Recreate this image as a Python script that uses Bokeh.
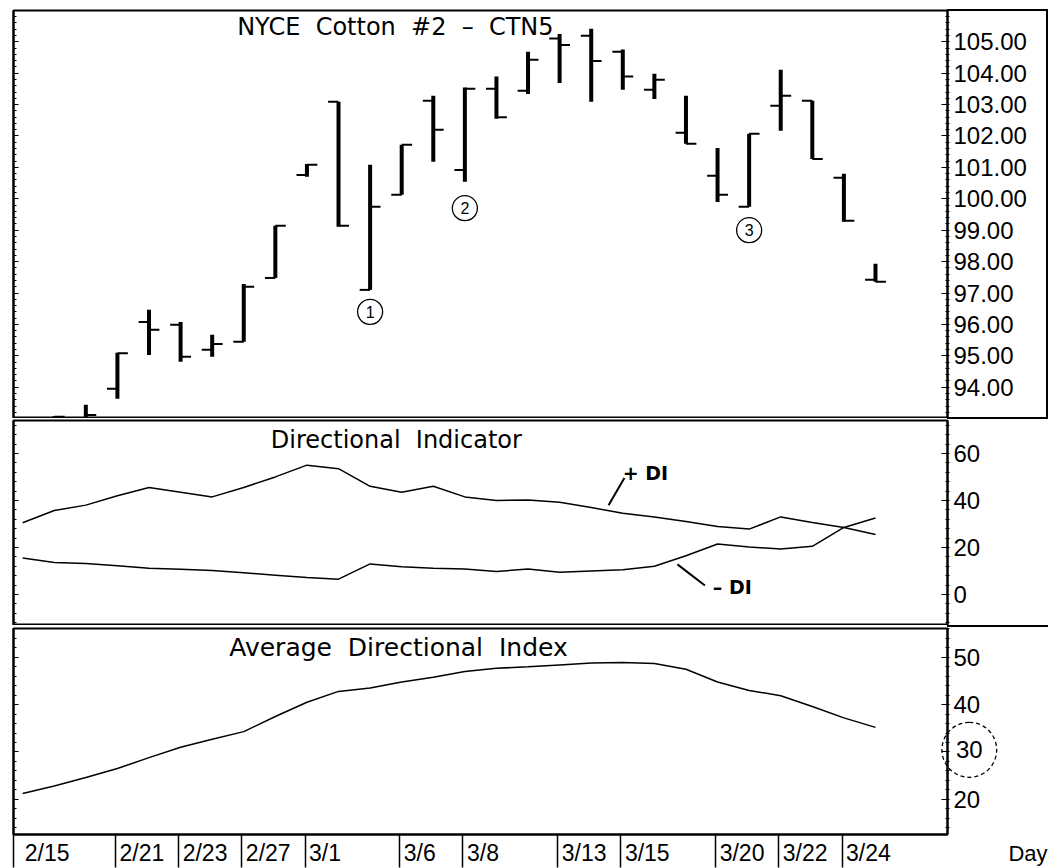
from bokeh.plotting import figure
from bokeh.models import (Range1d, LinearAxis, SingleIntervalTicker, FixedTicker,
                          PrintfTickFormatter, CustomJSTickFormatter, Label,
                          ColumnDataSource)
from bokeh.layouts import column
from bokeh.transform import dodge
from bokeh.core.properties import value
from bokeh.embed import file_html
from bokeh.resources import INLINE

TITLE_FONT = "DejaVu Sans"
FONT = "Liberation Sans"
NB = "\u00a0"

# ---------------- data ----------------
dates = ["2/15", "2/16", "2/17", "2/21", "2/22", "2/23", "2/24", "2/27", "2/28",
         "3/1", "3/2", "3/3", "3/6", "3/7", "3/8", "3/9", "3/10", "3/13", "3/14",
         "3/15", "3/16", "3/17", "3/20", "3/21", "3/22", "3/23", "3/24", "3/27"]

bar_dates = dates[1:]
opens = [92.70, 92.85, 93.95, 96.08, 95.99, 95.19, 95.45, 97.48, 100.76, 103.09,
         97.10, 100.13, 103.12, 100.92, 103.50, 103.44, 105.10, 105.19, 104.68,
         103.47, 102.10, 100.73, 99.75, 102.96, 103.12, 100.67, 97.42]
highs = [93.08, 93.44, 95.10, 96.47, 96.08, 95.67, 97.29, 99.14, 101.11, 103.09,
         101.08, 101.72, 103.28, 103.54, 103.89, 104.68, 105.25, 105.41, 104.75,
         103.98, 103.28, 101.62, 102.07, 104.11, 103.12, 100.80, 97.93]
lows = [92.50, 92.60, 93.63, 95.03, 94.81, 94.97, 95.45, 97.48, 100.70, 99.11,
        97.10, 100.13, 101.18, 100.54, 102.55, 103.34, 103.69, 103.09, 103.47,
        103.18, 101.75, 99.90, 99.75, 102.17, 101.27, 99.27, 97.36]
closes = [93.06, 93.12, 95.08, 95.83, 94.97, 95.38, 97.20, 99.14, 101.08, 99.14,
          99.75, 101.72, 102.20, 103.50, 102.60, 104.43, 104.90, 104.39, 103.89,
          103.79, 101.75, 100.13, 102.07, 103.28, 101.27, 99.30, 97.36]

plus_di = [30.5, 35.7, 38.0, 42.0, 45.5, 43.5, 41.5, 45.5, 50.0, 55.0, 53.5, 46.0,
           43.5, 46.0, 41.5, 40.0, 40.2, 39.2, 37.0, 34.5, 33.0, 31.0, 28.9, 27.8,
           33.0, 30.6, 28.5, 25.5]
minus_di = [15.5, 13.6, 13.2, 12.2, 11.2, 10.7, 10.2, 9.2, 8.2, 7.2, 6.5, 13.0,
            11.8, 11.2, 10.8, 9.8, 10.8, 9.5, 10.0, 10.5, 12.0, 16.5, 21.5, 20.2,
            19.3, 20.5, 28.5, 32.5]
adx = [21.2, 22.8, 24.6, 26.5, 28.8, 31.0, 32.7, 34.3, 37.5, 40.5, 42.8, 43.5,
       44.8, 45.8, 47.0, 47.7, 48.0, 48.4, 48.8, 48.9, 48.7, 47.5, 44.8, 43.0,
       41.9, 39.6, 37.2, 35.2]

date_tick_labels = ["2/15", "2/21", "2/23", "2/27", "3/1", "3/6", "3/8", "3/13",
                    "3/15", "3/20", "3/22", "3/24"]

circled_dates = ["3/3", "3/8", "3/21"]
circled_prices = [96.4, 99.7, 99.0]
circled_text = ["1", "2", "3"]

highlighted_adx_level = 30

# ---------------- layout helpers ----------------
x_all = list(range(len(dates)))
bar_x = [dates.index(d) for d in bar_dates]
X0, X1 = -0.29, 29.28
xr = Range1d(X0, X1)
FRAME_W = 934
PX_PER_UNIT = FRAME_W / (X1 - X0)


def make_fig(frame_h, y0, y1, top, xloc=None):
    p = figure(frame_width=FRAME_W, frame_height=frame_h, x_range=xr,
               y_range=Range1d(y0, y1), output_backend="svg",
               toolbar_location=None, y_axis_location="right",
               x_axis_location=xloc, min_border_left=13, min_border_right=101,
               min_border_top=top, min_border_bottom=0,
               background_fill_color="white", border_fill_color=None)
    p.grid.visible = False
    p.outline_line_color = "black"
    p.outline_line_width = 2
    return p


def style_right_axis(p, interval, nminor, fmt):
    ax = p.yaxis[0]
    ax.ticker = SingleIntervalTicker(interval=interval, num_minor_ticks=nminor)
    ax.formatter = PrintfTickFormatter(format=fmt)
    ax.major_label_text_font = FONT
    ax.major_label_text_font_size = "24px"
    ax.major_label_text_color = "black"
    ax.major_tick_in = 6
    ax.major_tick_out = 0
    ax.minor_tick_in = 2
    ax.minor_tick_out = 2
    ax.axis_line_width = 2
    ax.axis_line_color = "black"
    ax.major_tick_line_color = "black"
    ax.minor_tick_line_color = "black"
    ax.major_label_standoff = 4
    la = LinearAxis(ticker=SingleIntervalTicker(interval=interval, num_minor_ticks=nminor),
                    formatter=CustomJSTickFormatter(code="return ''"),
                    major_tick_in=5, major_tick_out=0, minor_tick_in=3, minor_tick_out=0,
                    major_label_standoff=0, axis_line_width=2, axis_line_color="black")
    p.add_layout(la, "left")
    return ax


# ---------------- price panel ----------------
P_LO, P_HI = 93.005, 105.995
p1 = make_fig(408, P_LO, P_HI, 10)
style_right_axis(p1, 1, 5, "%.2f")

src = ColumnDataSource(dict(x=bar_x, o=opens, h=highs, l=lows, c=closes))
p1.segment(x0="x", y0="l", x1="x", y1="h", source=src, line_width=4,
           line_color="black", line_cap="butt")
p1.segment(x0=dodge("x", -0.33, range=xr), y0="o", x1="x", y1="o", source=src,
           line_width=2, line_color="black")
p1.segment(x0="x", y0="c", x1=dodge("x", 0.33, range=xr), y1="c", source=src,
           line_width=2, line_color="black")

cx = [dates.index(d) for d in circled_dates]
p1.scatter(x=cx, y=circled_prices, marker="circle", size=25, fill_color=None,
           line_color="black", line_width=1.3)
p1.text(x=cx, y=circled_prices, text=circled_text, text_align="center",
        text_baseline="middle", text_font=value(FONT), text_font_size="16px",
        text_color="black")

p1.add_layout(Label(x=11.8, y=105.47,
                    text=f"NYCE{NB}{NB}Cotton{NB}{NB}#2{NB}{NB}\u2013{NB}{NB}CTN5",
                    text_align="center", text_baseline="middle", text_font=TITLE_FONT,
                    text_font_size="24px", text_color="black"))

# ---------------- directional indicator panel ----------------
D_LO, D_HI = -13.2, 74.0
p2 = make_fig(205, D_LO, D_HI, 2)
style_right_axis(p2, 20, 5, "%d")
p2.line(x_all, plus_di, line_color="black", line_width=1.5)
p2.line(x_all, minus_di, line_color="black", line_width=1.5)
p2.add_layout(Label(x=11.83, y=65.5, text=f"Directional{NB}{NB}Indicator",
                    text_align="center", text_baseline="middle", text_font=TITLE_FONT,
                    text_font_size="24px", text_color="black"))
p2.segment(x0=[18.55, 20.73], y0=[37.9, 12.8], x1=[19.05, 21.6], y1=[49.5, 3.8],
           line_color="black", line_width=2)
p2.text(x=[19.0, 21.85], y=[51.5, 3.0], text=[f"+{NB}DI", f"\u2013{NB}DI"],
        text_align="left", text_baseline="middle", text_font=value(TITLE_FONT),
        text_font_style="bold", text_font_size="19px", text_color="black")

# ---------------- ADX panel ----------------
A_LO, A_HI = 12.55, 56.1
p3 = make_fig(206, A_LO, A_HI, 3, xloc="below")
ax3 = style_right_axis(p3, 10, 5, "%d")
p3.line(x_all, adx, line_color="black", line_width=1.5)
p3.add_layout(Label(x=11.9, y=52.1, text=f"Average{NB}{NB}Directional{NB}{NB}Index",
                    text_align="center", text_baseline="middle", text_font=TITLE_FONT,
                    text_font_size="25px", text_color="black"))

# the 30 level is circled on the axis (a label with a round dashed border)
ax3.major_label_overrides = {highlighted_adx_level: ""}
p3.add_layout(Label(x=29.97, y=highlighted_adx_level + 0.45, text=str(highlighted_adx_level),
                    text_align="center", text_baseline="middle", text_font=FONT,
                    text_font_size="24px", text_color="black", padding=(14, 19),
                    border_radius=28, border_line_color="black", border_line_width=1.3,
                    border_line_dash="4 3", background_fill_color=None), "right")

# date axis: each label left-aligned just right of its separator
sep_pos = [dates.index(d) - 0.06 for d in date_tick_labels]
centers = []
for d, s in zip(date_tick_labels, sep_pos):
    w = 12.79 * sum(ch.isdigit() for ch in d) + 6.39
    centers.append(round(s + (4 + w / 2) / PX_PER_UNIT, 4))
xa = p3.xaxis[0]
xa.ticker = FixedTicker(ticks=centers, minor_ticks=[X0 + 0.01] + sep_pos[1:])
xa.major_label_overrides = {c: d for c, d in zip(centers, date_tick_labels)}
xa.major_tick_in = 0
xa.major_tick_out = 0
xa.minor_tick_in = 0
xa.minor_tick_out = 33
xa.minor_tick_line_color = "black"
xa.minor_tick_line_width = 1.5
xa.axis_line_width = 2
xa.axis_line_color = "black"
xa.major_label_standoff = -28
xa.major_label_text_font = FONT
xa.major_label_text_font_size = "23px"
xa.major_label_text_color = "black"

p3.add_layout(Label(x=31.21, y=8.6, text="Day", text_align="left",
                    text_baseline="middle", text_font=FONT, text_font_size="22px",
                    text_color="black"), "right")

layout = column(p1, p2, p3, spacing=0)
# page-wide ruling lines that continue the panel borders across the axis area
layout.styles = {
    "background-color": "white",
    "background-image": ", ".join(["linear-gradient(#000, #000)"] * 4),
    "background-size": "101px 2px, 2px 410px, 101px 2px, 101px 2px",
    "background-position": "947px 9px, 1046px 9px, 947px 417px, 947px 625px",
    "background-repeat": "no-repeat",
}
open("out.html", "w").write(file_html(layout, INLINE))
